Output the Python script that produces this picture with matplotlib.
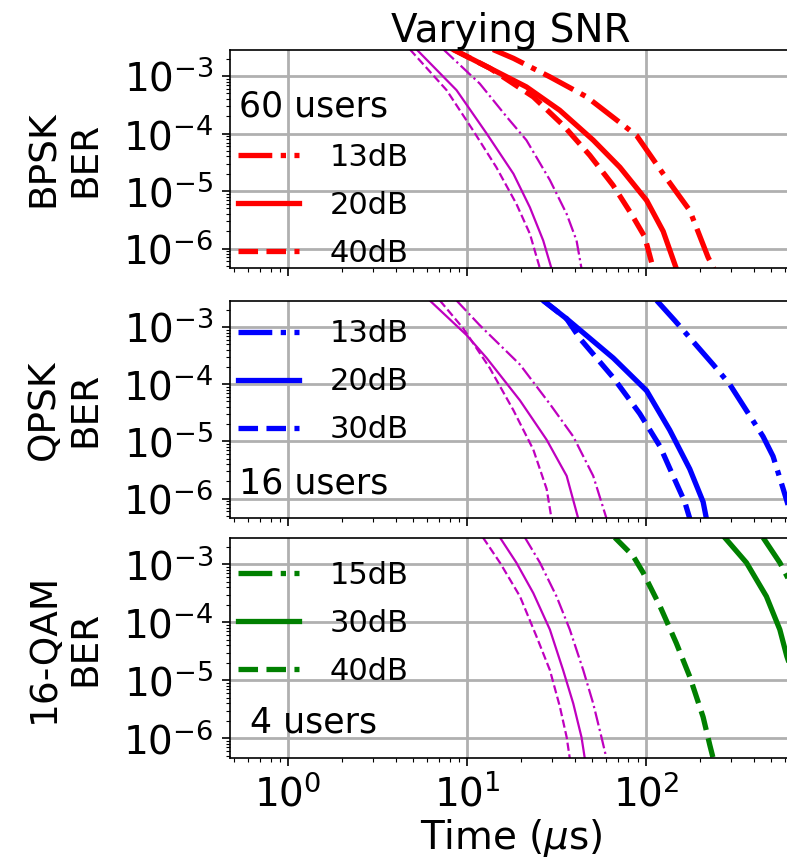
import matplotlib
matplotlib.use("Agg")
import matplotlib.pyplot as plt
from matplotlib.ticker import LogLocator, NullFormatter

# ---------------------------------------------------------------------------
# Data (time in us, BER)
# ---------------------------------------------------------------------------

# BPSK, 60 users
bpsk_13_t = [14.0, 18.2, 29.1, 46.7, 88.7, 125, 176, 223, 240]
bpsk_13_ber = [2.9e-3, 2.04e-3, 9.7e-4, 4.36e-4, 9.3e-5, 2.0e-5, 4.6e-6, 7.0e-7, 4.5e-7]
bpsk_20_t = [8.4, 13.4, 21.5, 33, 50.8, 71.6, 101, 125, 148]
bpsk_20_ber = [2.9e-3, 1.38e-3, 6.5e-4, 2.55e-4, 7.7e-5, 2.6e-5, 6.9e-6, 2.0e-6, 4.5e-7]
bpsk_40_t = [8.4, 13.4, 23.5, 34.5, 48.6, 65.6, 83, 98.6, 110]
bpsk_40_ber = [2.9e-3, 1.38e-3, 4.36e-4, 1.4e-4, 4.2e-5, 1.26e-5, 4.0e-6, 1.6e-6, 4.5e-7]

bpsk_ref_dd_t = [7.4, 11.8, 16.7, 21.5, 29.1, 36.1, 41.0, 43.7]
bpsk_ref_dd_ber = [2.9e-3, 7.4e-4, 1.95e-4, 7.7e-5, 1.55e-5, 4.0e-6, 1.38e-6, 4.5e-7]
bpsk_ref_solid_t = [5.24, 8.75, 12.9, 18.2, 22.5, 26.7, 29.7]
bpsk_ref_solid_ber = [2.9e-3, 5.7e-4, 1.0e-4, 2.0e-5, 5.2e-6, 1.38e-6, 4.5e-7]
bpsk_ref_dash_t = [4.81, 7.7, 10.8, 14.6, 18.9, 22.5, 25.6]
bpsk_ref_dash_ber = [2.9e-3, 5.7e-4, 1.15e-4, 2.6e-5, 6.0e-6, 1.8e-6, 4.5e-7]

# QPSK, 16 users
qpsk_13_t = [115, 145, 238, 294, 452, 514, 585, 665]
qpsk_13_ber = [2.9e-3, 1.3e-3, 2.2e-4, 1.0e-4, 1.22e-5, 5.5e-6, 1.5e-6, 4.0e-7]
qpsk_20_t = [26.7, 36.1, 65.8, 101, 136, 176, 209, 218]
qpsk_20_ber = [2.9e-3, 1.39e-3, 2.86e-4, 7.7e-5, 1.58e-5, 3.3e-6, 8.8e-7, 4.5e-7]
qpsk_30_t = [26.7, 36.1, 42.8, 65.8, 92.5, 120, 142, 165, 176]
qpsk_30_ber = [2.9e-3, 1.39e-3, 6.3e-4, 1.3e-4, 3.06e-5, 8.2e-6, 2.5e-6, 8.8e-7, 4.5e-7]

qpsk_ref_dd_t = [8.75, 11.8, 19.8, 29.1, 39.3, 50.8, 60.3]
qpsk_ref_dd_ber = [2.9e-3, 1.07e-3, 2.2e-4, 4.5e-5, 1.22e-5, 2.5e-6, 4.5e-7]
qpsk_ref_solid_t = [6.2, 9.96, 12.9, 19.8, 27.9, 36.1, 41.9]
qpsk_ref_solid_ber = [2.9e-3, 7.2e-4, 2.86e-4, 5.2e-5, 1.07e-5, 2.5e-6, 4.5e-7]
qpsk_ref_dash_t = [7.06, 9.55, 13.4, 18.2, 23.5, 27.9, 29.7]
qpsk_ref_dash_ber = [2.9e-3, 9.4e-4, 1.93e-4, 3.5e-5, 7.2e-6, 1.48e-6, 4.5e-7]

# 16-QAM, 4 users
qam_15_t = [452, 561, 614, 700]
qam_15_ber = [2.9e-3, 1.07e-3, 6.3e-4, 3.0e-4]
qam_30_t = [276, 365, 472, 561, 614, 700]
qam_30_ber = [2.9e-3, 1.07e-3, 2.8e-4, 7.5e-5, 2.6e-5, 8.0e-6]
qam_40_t = [67.1, 84.9, 96.6, 120, 148, 176, 209, 228, 238]
qam_40_ber = [2.9e-3, 1.4e-3, 7.2e-4, 1.9e-4, 4.4e-5, 1.16e-5, 2.34e-6, 7.6e-7, 4.5e-7]

qam_ref_dd_t = [21.1, 25.6, 31.7, 37.6, 44.7, 50.8, 56.5, 60.3]
qam_ref_dd_ber = [2.9e-3, 1.07e-3, 2.8e-4, 7.5e-5, 1.5e-5, 4.0e-6, 1.05e-6, 4.5e-7]
qam_ref_solid_t = [15.3, 18.9, 23.5, 29.1, 34.5, 39.3, 43.7, 45.6]
qam_ref_solid_ber = [2.9e-3, 1.07e-3, 3.2e-4, 7.5e-5, 1.5e-5, 4.0e-6, 1.05e-6, 4.5e-7]
qam_ref_dash_t = [12.3, 15.3, 19.8, 24.5, 29.1, 33.1, 36.1, 37.6]
qam_ref_dash_ber = [2.9e-3, 1.07e-3, 2.8e-4, 5.7e-5, 1.5e-5, 3.5e-6, 1.05e-6, 4.5e-7]

panel_names = ["BPSK", "QPSK", "16-QAM"]
panel_colors = ["r", "b", "g"]
panel_users = ["60 users", "16 users", "4 users"]
snr_labels = [["13dB", "20dB", "40dB"],
              ["13dB", "20dB", "30dB"],
              ["15dB", "30dB", "40dB"]]
yticks = [1e-3, 1e-4, 1e-5, 1e-6]

series = [
    [(bpsk_13_t, bpsk_13_ber), (bpsk_20_t, bpsk_20_ber), (bpsk_40_t, bpsk_40_ber)],
    [(qpsk_13_t, qpsk_13_ber), (qpsk_20_t, qpsk_20_ber), (qpsk_30_t, qpsk_30_ber)],
    [(qam_15_t, qam_15_ber), (qam_30_t, qam_30_ber), (qam_40_t, qam_40_ber)],
]
refs = [
    [(bpsk_ref_dd_t, bpsk_ref_dd_ber), (bpsk_ref_solid_t, bpsk_ref_solid_ber),
     (bpsk_ref_dash_t, bpsk_ref_dash_ber)],
    [(qpsk_ref_dd_t, qpsk_ref_dd_ber), (qpsk_ref_solid_t, qpsk_ref_solid_ber),
     (qpsk_ref_dash_t, qpsk_ref_dash_ber)],
    [(qam_ref_dd_t, qam_ref_dd_ber), (qam_ref_solid_t, qam_ref_solid_ber),
     (qam_ref_dash_t, qam_ref_dash_ber)],
]
styles = ["-.", "-", "--"]

# ---------------------------------------------------------------------------
# Figure
# ---------------------------------------------------------------------------
TICK_FS = 28
LABEL_FS = 27
LEG_FS = 22
USERS_FS = 25
plt.rcParams["font.family"] = "DejaVu Sans"

fig = plt.figure(figsize=(7.87, 8.63), dpi=100)
# axes rectangles (left, bottom, width, height) in figure fraction
rects = [(0.2922, 0.6895, 0.714, 0.2526),
         (0.2922, 0.3998, 0.714, 0.2515),
         (0.2922, 0.1217, 0.714, 0.2549)]
users_y = [0.74, 0.16, 0.16]
legend_y = [0.575, 0.915, 0.895]

axes = []
for i, rect in enumerate(rects):
    ax = fig.add_axes(rect)
    axes.append(ax)
    for (t, b), ls in zip(refs[i], styles):
        ax.plot(t, b, color="m", ls=ls, lw=1.6)
    handles = []
    for (t, b), ls, lab in zip(series[i], styles, snr_labels[i]):
        h, = ax.plot(t, b, color=panel_colors[i], ls=ls, lw=3.8, label=lab)
        handles.append(h)

    ax.set_xscale("log")
    ax.set_yscale("log")
    ax.set_xlim(0.474, 655)
    ax.set_ylim(4.6e-7, 2.85e-3)
    ax.set_yticks(yticks)
    ax.yaxis.set_minor_locator(LogLocator(base=10, subs="all", numticks=50))
    ax.yaxis.set_minor_formatter(NullFormatter())
    ax.grid(True, which="major", color="#b0b0b0", lw=2)
    ax.set_axisbelow(True)
    ax.tick_params(labelsize=TICK_FS, width=1.2, length=6, pad=6)
    ax.tick_params(which="minor", length=3, width=0.8)
    for sp in ax.spines.values():
        sp.set_linewidth(1.2)
    ax.set_ylabel(f"{panel_names[i]}\nBER", fontsize=LABEL_FS, labelpad=14)

    ax.text(0.149, users_y[i], panel_users[i], transform=ax.transAxes,
            ha="center", va="center", fontsize=USERS_FS)
    ax.legend(handles=handles, loc="upper left", bbox_to_anchor=(0.014, legend_y[i]),
              frameon=False, fontsize=LEG_FS, borderpad=0, borderaxespad=0,
              handlelength=2.0, handletextpad=1.0, labelspacing=0.62)
    if i < 2:
        ax.tick_params(labelbottom=False)

axes[0].set_title("Varying SNR", fontsize=28, pad=5)
axes[2].set_xlabel(r"Time ($\mu$s)", fontsize=28, labelpad=2)

fig.savefig("out.png", dpi=100)
